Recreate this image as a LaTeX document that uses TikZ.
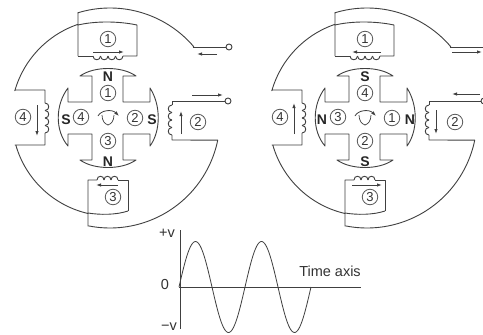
\documentclass[tikz,border=0pt]{standalone}
\usepackage{fontspec}
\setmainfont{Liberation Sans}
\usetikzlibrary{arrows.meta}
\tikzset{
  x=1pt,y=-1pt,
  wire/.style={draw=black!75,line width=0.9pt,line join=round},
  flow/.style={wire,-{Latex[length=5pt,width=3.5pt]}},
  num/.style={circle,draw=black!65,line width=0.8pt,inner sep=0pt,minimum size=15.5pt,font=\fontsize{13}{13}\selectfont,text=black!80},
  pole/.style={inner sep=0pt,font=\fontsize{14}{14}\bfseries\selectfont,text=black!85},
  axislabel/.style={inner sep=0pt,font=\fontsize{14.5}{15}\selectfont,text=black!80},
  terminal/.style={circle,draw=black!75,line width=0.9pt,fill=white,inner sep=0pt,minimum size=6pt}
}
\newcommand{\hcoil}[5]{\foreach \k in {1,...,#5}{\draw[wire] ({#1+(\k-1)*#3},#2) .. controls ({#1+(\k-1)*#3},{#2+#4}) and ({#1+\k*#3},{#2+#4}) .. ({#1+\k*#3},#2);}}
\newcommand{\vcoil}[5]{\foreach \k in {1,...,#5}{\draw[wire] (#1,{#2+(\k-1)*#3}) .. controls ({#1+#4},{#2+(\k-1)*#3}) and ({#1+#4},{#2+\k*#3}) .. (#1,{#2+\k*#3});}}
\newcommand{\motorbody}[6]{%
\begin{scope}[xshift=#1pt]
  \draw[wire] (78,56) -- (78,25)
     -- plot[domain=251:196,samples=40] ({110+99*cos(\x)},{118+99*sin(\x)})
     -- (15,90) -- (45,90) -- (45,103);
  \draw[wire] (45,133) -- (45,145) -- (15,145)
     -- plot[domain=164:103,samples=40] ({110+98*cos(\x)},{118+98*sin(\x)})
     -- (88,180) -- (97,180);
  \draw[wire] (118,180) -- (128,180) -- (128,211);
  \draw[wire] (88,213) .. controls (100,215) and (116,215) .. (128,211);
  \draw[wire] (78,25) .. controls (95,21) and (118,21) .. (137,25) -- (137,56) -- (123,56);
  \draw[wire] (78,56) -- (93,56);
  \draw[wire] (78,25) -- (78,13)
     -- plot[domain=-107:-40.5,samples=50] ({110+110*cos(\x)},{118+110*sin(\x)})
     -- (193,47);
  \draw[wire] (88,213) -- (88,226)
     -- plot[domain=101:11.6,samples=50] ({110+110*cos(\x)},{118+110*sin(\x)})
     -- (172,140) -- (172,135);
  \draw[wire] (172,105) -- (172,101) -- (190,101);
  \hcoil{93}{56}{7.5}{5}{4}
  \hcoil{97}{180}{7}{-5}{3}
  \vcoil{45}{103}{7.5}{5}{4}
  \vcoil{172}{105}{7.5}{-5}{4}
  \draw[wire] (123,102) -- (123,76) -- (136,76)
     .. controls (122,66) and (94,66) .. (80,76) -- (92,76) -- (92,102) -- (68,102) -- (68,88)
     .. controls (55,105) and (55,131) .. (68,146) -- (68,134) -- (92,134) -- (92,160) -- (80,160)
     .. controls (94,170) and (122,170) .. (136,160) -- (123,160) -- (123,134) -- (150,134) -- (150,146)
     .. controls (161,131) and (161,105) .. (150,88) -- (150,102) -- cycle;
  \draw[wire,line width=0.7pt] (102,115) .. controls (102,121) and (105,124) .. (108,125) .. controls (111,124) and (114,121) .. (114,115);
  \draw[flow,line width=0.8pt] (98,116) .. controls (101,110) and (112,109) .. (119,116);
  \node[num] (#2top) at (108,39) {1};
  \node[num] (#2bot) at (113,197) {3};
  \node[num] (#2lft) at (23,117) {4};
  \node[num] (#2rgt) at (198,122) {2};
  \node[num] (#2ra) at (108,93) {#3};
  \node[num] (#2rb) at (135,118) {#4};
  \node[num] (#2rc) at (108,141) {#5};
  \node[num] (#2rd) at (81,117) {#6};
\end{scope}}
\begin{document}
\begin{tikzpicture}
\useasboundingbox (0,0) rectangle (483,335);
\clip (0,0) rectangle (483,335);
\fill[white] (0,0) rectangle (483,335);
\motorbody{0}{a}{1}{2}{3}{4}
\node[pole] (aN1) at (108,77) {N};
\node[pole] (aS1) at (66,120) {S};
\node[pole] (aS2) at (152,120) {S};
\node[pole] (aN2) at (108,162) {N};
\coordinate (at1) at (193,47);
\node[terminal] (at2) at (229,47) {};
\draw[wire] (at1) -- (at2);
\coordinate (at3) at (190,101);
\node[terminal] (at4) at (228,101) {};
\draw[wire] (at3) -- (at4);
\draw[flow] (93,52) -- (124,52);
\draw[flow] (118,185) -- (96,185);
\draw[flow] (37,105) -- (37,136);
\draw[flow] (181,134) -- (181,111);
\draw[flow] (217,54) -- (197,54);
\draw[flow] (192,95) -- (223,95);
\motorbody{257}{b}{4}{1}{2}{3}
\node[pole] (bS1) at (365,77) {S};
\node[pole] (bN1) at (322,120) {N};
\node[pole] (bN2) at (410,120) {N};
\node[pole] (bS2) at (365,162) {S};
\coordinate (bt1) at (450,47);
\coordinate (bt2) at (483,47);
\draw[wire] (bt1) -- (bt2);
\coordinate (bt3) at (447,101);
\node[terminal] (bt4) at (484,101) {};
\draw[wire] (bt3) -- (bt4);
\draw[flow] (381,52) -- (352,52);
\draw[flow] (352,185) -- (382,185);
\draw[flow] (294,134) -- (294,103);
\draw[flow] (436,110) -- (436,134);
\draw[flow] (452,52) -- (482,52);
\draw[flow] (480,94) -- (452,94);
\coordinate (vt) at (180,230);
\coordinate (vb) at (180,329);
\coordinate (h0) at (179,287);
\coordinate (h1) at (361,287);
\draw[wire] (vt) -- (vb);
\draw[wire] (h0) -- (h1);
\draw[wire,line width=0.8pt] plot[domain=0:132,samples=120] ({179+\x},{287-45.5*sin(\x/66*360)});
\node[axislabel] (pv) at (167,233) {+v};
\node[axislabel] (zero) at (165,285) {0};
\node[axislabel] (mv) at (169,327) {−v};
\node[axislabel] (ta) at (330,271) {Time axis};
\end{tikzpicture}
\end{document}
